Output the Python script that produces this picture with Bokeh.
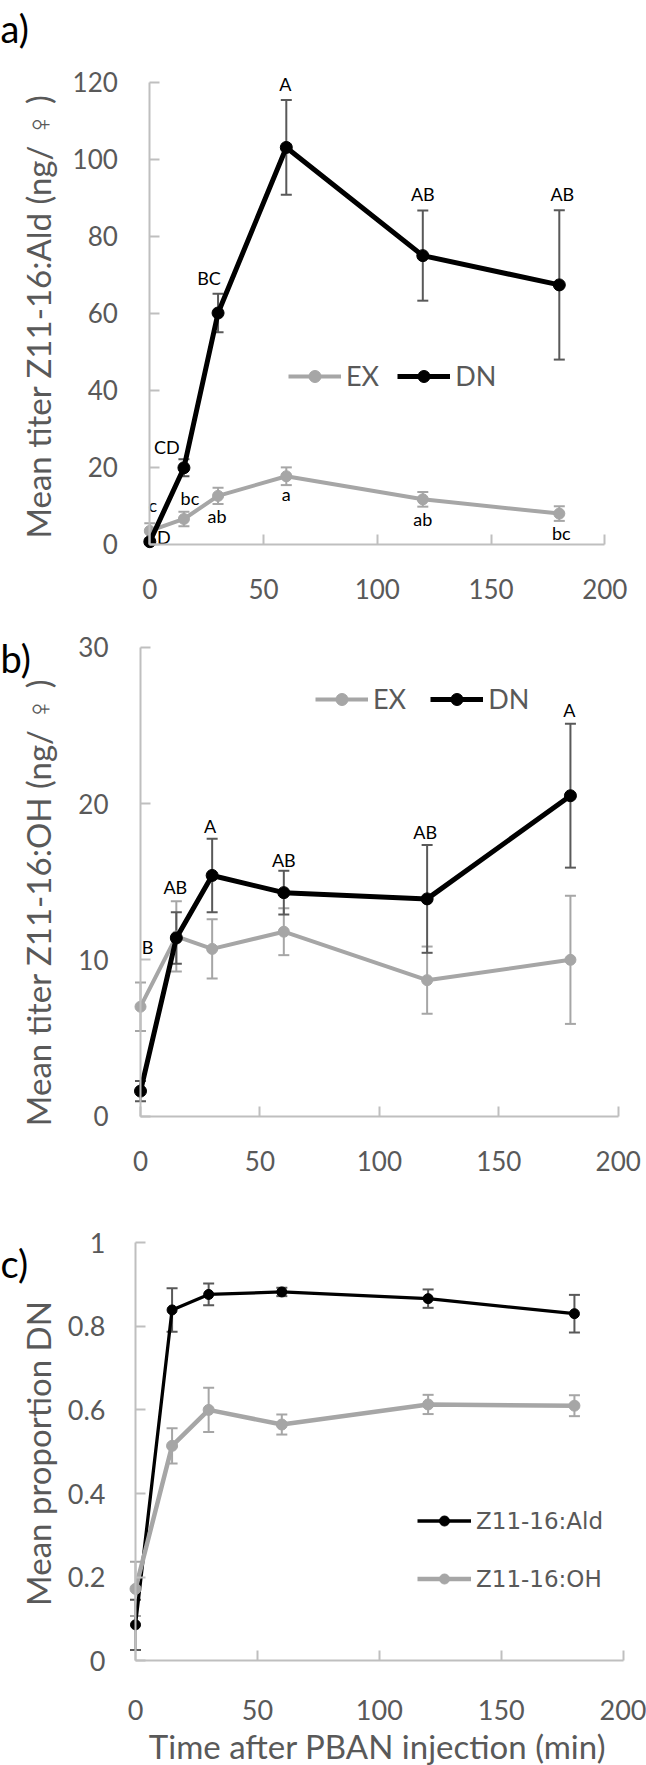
from math import pi

from bokeh.core.properties import value
from bokeh.embed import file_html
from bokeh.layouts import column
from bokeh.models import (ColumnDataSource, FixedTicker, Label, Legend, LegendItem,
                          Range1d, TeeHead, Whisker)
from bokeh.plotting import figure
from bokeh.resources import INLINE

# ---------------------------------------------------------------- data
time_min = [0, 15, 30, 60, 120, 180]

# a) Z11-16:Ald titre (ng / female), mean and SE
ald_ex_mean = [3.4, 6.5, 12.5, 17.6, 11.6, 7.9]
ald_ex_err = [2.0, 1.9, 2.1, 2.3, 1.9, 1.9]
ald_dn_mean = [0.6, 19.8, 60.0, 103.0, 74.9, 67.3]
ald_dn_err = [0.5, 2.2, 5.0, 12.3, 11.7, 19.4]
ald_ex_letters = ["c", "bc", "ab", "a", "ab", "bc"]
ald_dn_letters = ["D", "CD", "BC", "A", "AB", "AB"]

# b) Z11-16:OH titre (ng / female), mean and SE
oh_ex_mean = [7.0, 11.5, 10.7, 11.8, 8.7, 10.0]
oh_ex_err = [1.55, 2.25, 1.9, 1.5, 2.15, 4.1]
oh_dn_mean = [1.6, 11.4, 15.4, 14.3, 13.9, 20.5]
oh_dn_err = [0.65, 1.65, 2.35, 1.4, 3.45, 4.6]
oh_dn_letters = ["B", "AB", "A", "AB", "AB", "A"]

# c) mean proportion found in DN
prop_ald_mean = [0.086, 0.839, 0.876, 0.882, 0.866, 0.830]
prop_ald_err = [0.06, 0.052, 0.026, 0.010, 0.022, 0.045]
prop_oh_mean = [0.172, 0.514, 0.600, 0.565, 0.613, 0.610]
prop_oh_err = [0.065, 0.042, 0.053, 0.024, 0.023, 0.025]

x_ticks = [0, 50, 100, 150, 200]
titer_a_ticks = [0, 20, 40, 60, 80, 100, 120]
titer_b_ticks = [0, 10, 20, 30]
prop_ticks = [0, 0.2, 0.4, 0.6, 0.8, 1]

# ---------------------------------------------------------------- style
PAGE_W = 646
GREY = "#a6a6a6"
DARK = "#595959"
AXIS = "#bfbfbf"
FONT = "Lato"


def make_panel(height, origin_px, max_px, x_max, y_max, y_ticks, tick_size="26px",
               x_standoff=35):
    """Figure whose plotting area fills the canvas; the data origin and the
    axis maxima land on the given canvas pixels."""
    x0, y0 = origin_px
    x1, y1 = max_px
    kx = (x1 - x0) / x_max
    ky = (y0 - y1) / y_max
    p = figure(width=PAGE_W, height=height,
               x_range=Range1d(-x0 / kx, (PAGE_W - x0) / kx),
               y_range=Range1d((y0 - height) / ky, y0 / ky),
               output_backend="svg", toolbar_location=None,
               min_border_left=0, min_border_right=0,
               min_border_top=0, min_border_bottom=0)
    p.outline_line_color = None
    p.grid.visible = False
    for ax, bound, ticks in ((p.xaxis[0], x_max, x_ticks), (p.yaxis[0], y_max, y_ticks)):
        ax.fixed_location = 0
        ax.bounds = (0, bound)
        ax.ticker = FixedTicker(ticks=ticks)
        ax.axis_line_color = AXIS
        ax.axis_line_width = 2
        ax.major_tick_line_color = AXIS
        ax.major_tick_line_width = 2
        ax.major_tick_in = 10
        ax.major_tick_out = 0
        ax.minor_tick_line_color = None
        ax.major_label_text_font = FONT
        ax.major_label_text_font_size = tick_size
        ax.major_label_text_color = DARK
    p.xaxis.major_label_standoff = x_standoff
    p.yaxis.major_label_standoff = 32
    return p


def draw_series(p, mean, err, color, bar_color, lw, size):
    src = ColumnDataSource(dict(
        x=time_min, y=mean,
        lower=[m - e for m, e in zip(mean, err)],
        upper=[m + e for m, e in zip(mean, err)]))
    p.add_layout(Whisker(source=src, base="x", lower="lower", upper="upper",
                         line_color=bar_color, line_width=2,
                         upper_head=TeeHead(size=11, line_color=bar_color, line_width=2),
                         lower_head=TeeHead(size=11, line_color=bar_color, line_width=2)))
    ln = p.line("x", "y", source=src, line_color=color, line_width=lw)
    pts = p.scatter("x", "y", source=src, size=size, fill_color=color, line_color=color)
    return src, ln, pts


def draw_letters(p, src, letters, anchor, dx, dy):
    ys = [src.data[a][i] for i, a in enumerate(anchor)]
    p.text(x=time_min, y=ys, text=letters, x_offset=dx, y_offset=dy,
           text_font=value(FONT), text_font_size="18px", text_color="black",
           text_align="center", text_baseline="middle")


def add_legend(p, items, loc, orientation, glyph_w, glyph_h, label_h, standoff,
               spacing, font, size):
    p.add_layout(Legend(
        items=[LegendItem(label=value(t), renderers=r) for t, r in items],
        location=loc, orientation=orientation, glyph_width=glyph_w,
        glyph_height=glyph_h, label_height=label_h, label_standoff=standoff,
        spacing=spacing, padding=0, margin=0, border_line_color=None,
        background_fill_alpha=0, label_text_font=font,
        label_text_font_size=size, label_text_color=DARK))


def canvas_text(p, text, x, y, size, font=FONT, color=DARK, angle=0.0,
                align="center"):
    p.add_layout(Label(x=x, y=y, x_units="canvas", y_units="canvas", text=text,
                       angle=angle, text_font=font, text_font_size=size,
                       text_color=color, text_align=align, text_baseline="middle"))


TITLE_SIZE = "33px"
PANEL_TAG_SIZE = "38px"

# ---------------------------------------------------------------- a) aldehyde
H_A = 615
pa = make_panel(H_A, (149.3, 543.5), (604.3, 81.5), 200, 120, titer_a_ticks)
ex_a, ex_a_line, ex_a_pts = draw_series(pa, ald_ex_mean, ald_ex_err, GREY, GREY, 4, 11)
dn_a, dn_a_line, dn_a_pts = draw_series(pa, ald_dn_mean, ald_dn_err, "black", DARK, 5, 12)
draw_letters(pa, ex_a, ald_ex_letters,
             ["upper", "upper", "lower", "lower", "lower", "lower"],
             [3, 6, -1, 0, 0, 2], [-18, -14, 12, 9, 12, 12])
draw_letters(pa, dn_a, ald_dn_letters,
             ["y", "upper", "upper", "upper", "upper", "upper"],
             [14, -17, -9, -1, 0, 3], [-5, -12, -16, -16, -17, -16])
add_legend(pa, [("EX", [ex_a_line, ex_a_pts]), ("DN", [dn_a_line, dn_a_pts])],
           (288, H_A - 392), "horizontal", 53, 30, 33, 5, 18, FONT, "27px")
canvas_text(pa, "Mean titer Z11-16:Ald (ng/ ♀ )", 37, 316, TITLE_SIZE, angle=pi / 2)
canvas_text(pa, "a)", 0, 27, PANEL_TAG_SIZE, color="black", align="left")

# ---------------------------------------------------------------- b) alcohol
H_B = 570
pb = make_panel(H_B, (140, 500.6), (617.7, 31.8), 200, 30, titer_b_ticks)
ex_b, ex_b_line, ex_b_pts = draw_series(pb, oh_ex_mean, oh_ex_err, GREY, GREY, 4, 11)
dn_b, dn_b_line, dn_b_pts = draw_series(pb, oh_dn_mean, oh_dn_err, "black", DARK, 5, 12)
draw_letters(pb, dn_b, oh_dn_letters,
             ["y", "upper", "upper", "upper", "upper", "upper"],
             [7, -1, -2, 0, -2, -1], [-144, -25, -13, -11, -13, -14])
add_legend(pb, [("EX", [ex_b_line, ex_b_pts]), ("DN", [dn_b_line, dn_b_pts])],
           (315, H_B - 100), "horizontal", 53, 30, 33, 5, 24, FONT, "27px")
canvas_text(pb, "Mean titer Z11-16:OH (ng/ ♀ )", 37, 287, TITLE_SIZE, angle=pi / 2)
canvas_text(pb, "b)", 0, 42, PANEL_TAG_SIZE, color="black", align="left")

# ---------------------------------------------------------------- c) proportion DN
H_C = 580
pc = make_panel(H_C, (135, 475.3), (622.7, 57.1), 200, 1, prop_ticks,
                tick_size="27px", x_standoff=39)
pc.yaxis.major_label_overrides = {0: "0", 1: "1"}
pc.yaxis.major_label_standoff = 30
ald_c, ald_c_line, ald_c_pts = draw_series(pc, prop_ald_mean, prop_ald_err, "black",
                                           DARK, 3.3, 10)
oh_c, oh_c_line, oh_c_pts = draw_series(pc, prop_oh_mean, prop_oh_err, GREY, GREY,
                                        4.5, 11)
add_legend(pc, [("Z11-16:Ald", [ald_c_line, ald_c_pts]),
                ("Z11-16:OH", [oh_c_line, oh_c_pts])],
           (417, H_C - 407), "vertical", 54, 25, 27, 5, 31, "DejaVu Sans", "23px")
canvas_text(pc, "Mean proportion DN", 37, 268, TITLE_SIZE, angle=pi / 2)
canvas_text(pc, "Time after PBAN injection (min)", 377, 560, TITLE_SIZE)
canvas_text(pc, "c)", 0, 77, PANEL_TAG_SIZE, color="black", align="left")

layout = column(pa, pb, pc)
open("out.html", "w").write(file_html(layout, INLINE))
